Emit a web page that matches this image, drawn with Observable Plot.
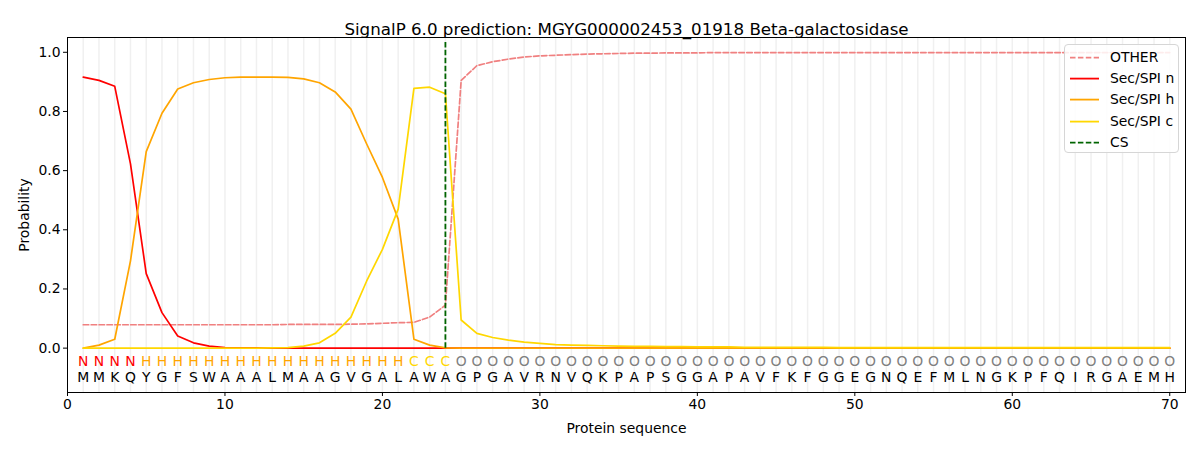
<!DOCTYPE html>
<html>
<head>
<meta charset="utf-8">
<script src="https://cdn.jsdelivr.net/npm/d3@7"></script>
<script src="https://cdn.jsdelivr.net/npm/@observablehq/plot@0.6"></script>
<style>
  body { margin: 0; background: #fff; font-family: "DejaVu Sans", sans-serif; }
  #wrap { position: relative; width: 1200px; height: 450px; }
  #legend { position: absolute; left: 1064px; top: 44px; width: 115px; height: 109px;
    border: 1px solid #d6d6d6; border-radius: 4px; background: rgba(255,255,255,0.85);
    font-family: "DejaVu Sans", sans-serif; font-size: 13.9px; color: #000; box-sizing: border-box; padding-top: 2px; }
  #legend .row { position: relative; height: 21.2px; line-height: 21.2px; white-space: nowrap; }
  #legend svg { position: absolute; left: 5px; top: 0; }
  #legend span { position: absolute; left: 45px; top: 0; white-space: nowrap; }
</style>
</head>
<body>
<div id="wrap"><div id="legend"></div></div>
<script>
const title = "SignalP 6.0 prediction: MGYG000002453_01918 Beta-galactosidase";
const sequence = "MMKQYGFSWAAALMAAGVGALAWAGPGAVRNVQKPAPSGGAPAVFKFGGEGNQEFMLNGKPFQIRGAEMH".split("");
const labels = "NNNNHHHHHHHHHHHHHHHHHCCCOOOOOOOOOOOOOOOOOOOOOOOOOOOOOOOOOOOOOOOOOOOOOO".split("");
const cleavageSite = 24;

const seriesNames = ["OTHER", "Sec/SPI n", "Sec/SPI h", "Sec/SPI c"];
const seriesColors = ["#f08080", "#ff0000", "#ffa500", "#ffd700"];
const labelColors = {N: "#ff0000", H: "#ffa500", C: "#ffd700", O: "#808080"};

const other = [
  0.079,0.079,0.079,0.079,0.079,0.079,0.079,0.079,0.079,0.079,
  0.079,0.079,0.079,0.080,0.080,0.080,0.080,0.081,0.082,0.084,
  0.086,0.087,0.105,0.145,0.905,0.955,0.968,0.977,0.984,0.988,
  0.990,0.992,0.994,0.995,0.996,0.997,0.997,0.998,0.998,0.998,
  0.999,0.999,0.999,0.999,0.999,0.999,0.999,0.999,0.999,0.999,
  0.999,0.999,0.999,0.999,0.999,0.999,0.999,0.999,0.999,0.999,
  0.999,0.999,0.999,0.999,0.999,0.999,0.999,0.999,0.999,0.999
];
const secN = [
  0.916,0.905,0.885,0.623,0.252,0.120,0.041,0.018,0.007,0.002,
  0.001,0.001,0,0,0,0,0,0,0,0,
  0,0,0,0,0,0,0,0,0,0,
  0,0,0,0,0,0,0,0,0,0,
  0,0,0,0,0,0,0,0,0,0,
  0,0,0,0,0,0,0,0,0,0,
  0,0,0,0,0,0,0,0,0,0
];
const secH = [
  0.000,0.010,0.030,0.295,0.664,0.794,0.876,0.897,0.908,0.914,
  0.916,0.916,0.916,0.915,0.910,0.897,0.866,0.808,0.690,0.577,
  0.436,0.030,0.010,0.001,0,0,0,0,0,0,
  0,0,0,0,0,0,0,0,0,0,
  0,0,0,0,0,0,0,0,0,0,
  0,0,0,0,0,0,0,0,0,0,
  0,0,0,0,0,0,0,0,0,0
];
const secC = [
  0,0,0,0,0,0,0,0,0,0,
  0,0,0.001,0.002,0.007,0.018,0.050,0.105,0.227,0.334,
  0.470,0.878,0.882,0.860,0.095,0.050,0.036,0.027,0.020,0.016,
  0.012,0.010,0.009,0.008,0.007,0.006,0.006,0.005,0.005,0.004,
  0.004,0.004,0.003,0.003,0.003,0.003,0.003,0.003,0.002,0.002,
  0.002,0.002,0.002,0.002,0.002,0.002,0.002,0.002,0.002,0.002,
  0.002,0.002,0.002,0.002,0.002,0.002,0.002,0.002,0.002,0.002
];
const seriesValues = [other, secN, secH, secC];

const positions = sequence.map((_, i) => i + 1);
const residues = sequence.map((aa, i) => ({pos: i + 1, aa, label: labels[i]}));
const rows = seriesValues.map((vals, s) => vals.map((v, i) => ({pos: i + 1, v, s: seriesNames[s]})));

const lineMark = (s) => Plot.line(rows[s], {
  x: "pos", y: "v", stroke: seriesColors[s], strokeWidth: 1.7,
  strokeDasharray: s === 0 ? "5.5,2.4" : null
});

const chart = Plot.plot({
  width: 1200, height: 450,
  marginLeft: 67, marginRight: 15, marginTop: 37, marginBottom: 58,
  style: {fontFamily: "DejaVu Sans, sans-serif", fontSize: "13.9px", color: "#000", background: "#fff"},
  x: {domain: [0, 71]},
  y: {domain: [-0.15, 1.05]},
  marks: [
    Plot.ruleX(positions, {x: d => d, stroke: "#f0f0f0", strokeWidth: 1.5}),
    lineMark(0), lineMark(1), lineMark(2), lineMark(3),
    Plot.ruleX([cleavageSite], {x: d => d, y1: 0, y2: 1.037, stroke: "#006400", strokeWidth: 1.8, strokeDasharray: "5.5,2.4"}),
    Plot.text(residues, {x: "pos", y: -0.047, text: "label", fill: d => labelColors[d.label], fontSize: 13.9}),
    Plot.text(residues, {x: "pos", y: -0.100, text: "aa", fill: "#000", fontSize: 13.9}),
    Plot.frame({stroke: "#000", strokeWidth: 1}),
    Plot.axisX({ticks: [0,10,20,30,40,50,60,70], tickSize: 4, tickPadding: 3, label: "Protein sequence", labelAnchor: "center", labelArrow: "none", labelOffset: 40}),
    Plot.axisY({ticks: [0,0.2,0.4,0.6,0.8,1.0], tickFormat: d3.format(".1f"), tickSize: 4, tickPadding: 3, label: "Probability", labelAnchor: "center", labelArrow: "none", labelOffset: 48}),
    Plot.text([title], {text: d => d, frameAnchor: "top", dy: -14, fontSize: 16.7, fill: "#000"})
  ]
});
document.getElementById("wrap").prepend(chart);

const legend = document.getElementById("legend");
const legendItems = seriesNames.map((n, i) => ({name: n, color: seriesColors[i], dash: i === 0 ? "5.5,2.4" : ""}))
  .concat([{name: "CS", color: "#006400", dash: "5.5,2.4"}]);
for (const it of legendItems) {
  const row = document.createElement("div");
  row.className = "row";
  row.innerHTML = `<svg width="30" height="21"><line x1="0" x2="29" y1="10.6" y2="10.6" stroke="${it.color}" stroke-width="1.8" ${it.dash ? `stroke-dasharray="${it.dash}"` : ""}/></svg><span>${it.name}</span>`;
  legend.appendChild(row);
}
</script>
</body>
</html>
